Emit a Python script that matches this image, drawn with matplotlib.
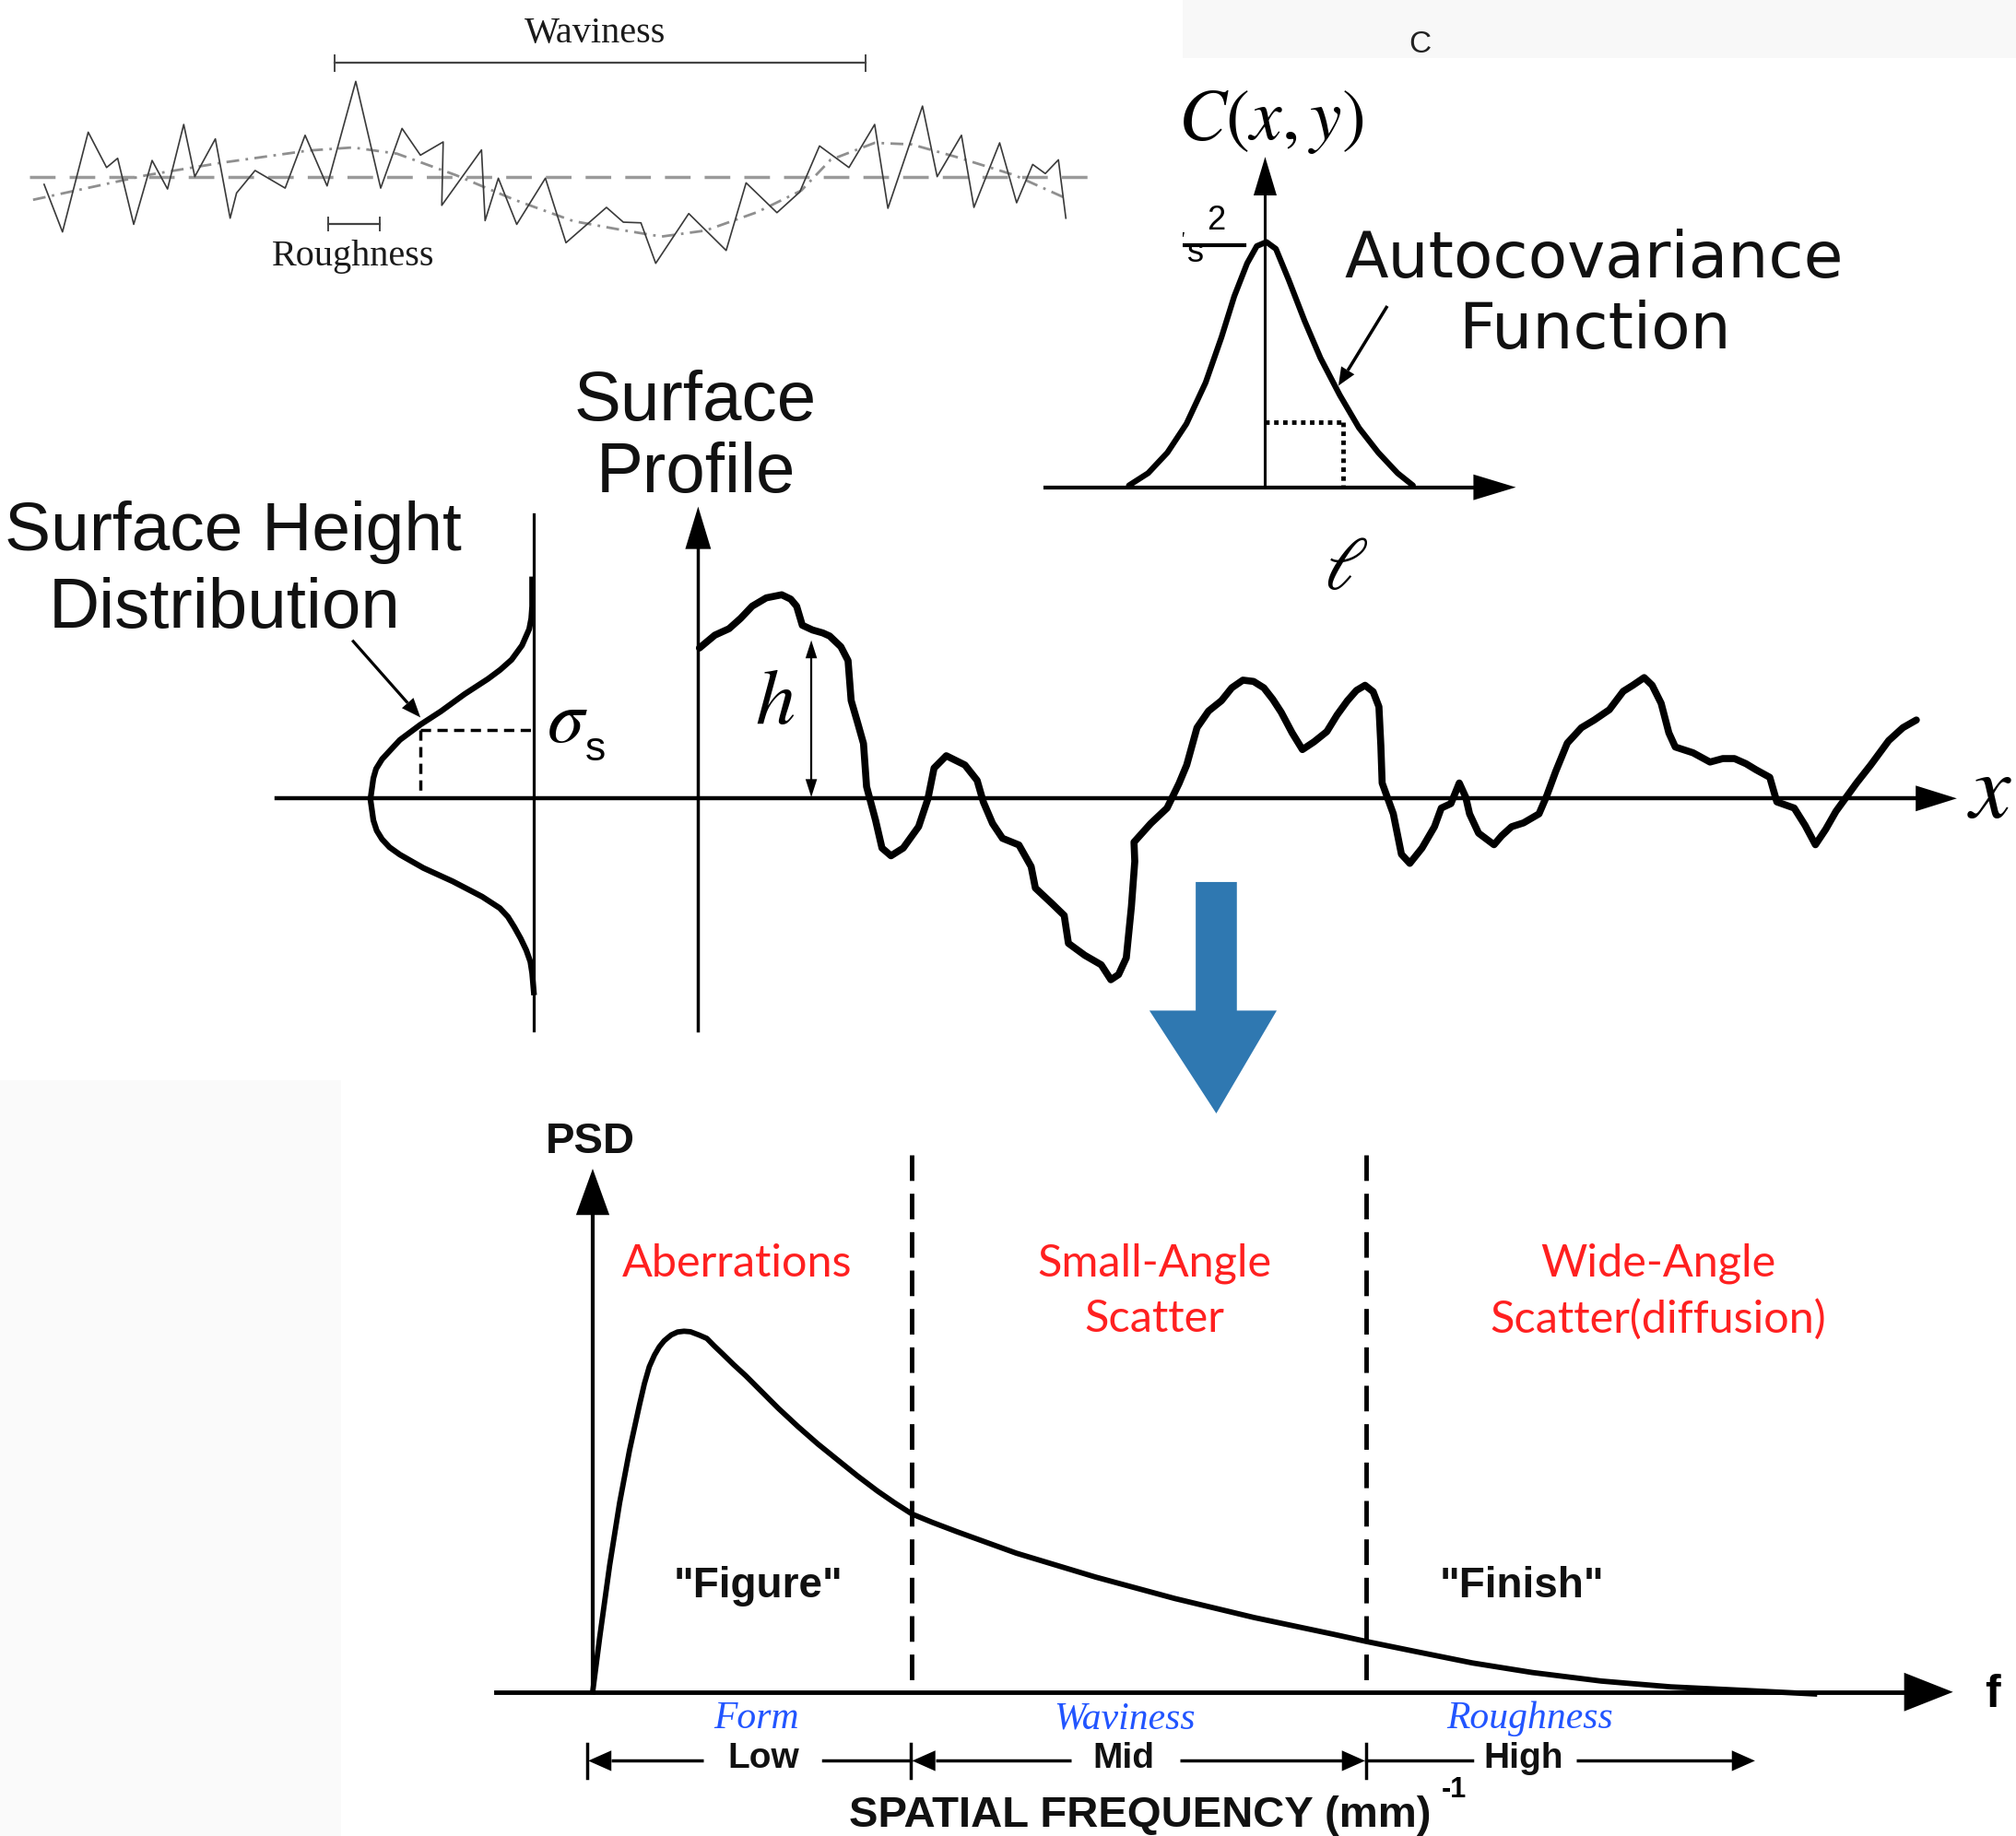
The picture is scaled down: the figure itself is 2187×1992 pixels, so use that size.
import numpy as np
import matplotlib
matplotlib.use("Agg")
import matplotlib.pyplot as plt

plt.rcParams["mathtext.fontset"] = "stix"
plt.rcParams["lines.scale_dashes"] = False
plt.rcParams["font.family"] = ["Liberation Sans", "DejaVu Sans"]

# drawing units = pixels of the reference shrunk to 1568 x 1428
W, H = 1568, 1428

# ---------------- top left : roughness / waviness sketch
rough_x = [34.3, 48.6, 68.6, 82.9, 91.5, 104, 118.3, 130.3, 142.9, 151.5, 167.5, 179, 184, 198.4,
           221.8, 237.3, 254.4, 276.7, 296.1, 312.7, 327, 344.7, 343.6, 374.5, 377.3, 387.6, 401.9,
           424.2, 440.2, 471.7, 484.8, 498.5, 510, 535.7, 564.8, 580.3, 604.3, 622, 637.4, 660.3,
           680.3, 690.6, 717.5, 728.9, 747.8, 757.5, 777.5, 790.7, 803.2, 813, 823.2, 829]
rough_y = [143.4, 180.4, 102.8, 130.3, 123.1, 174.5, 124.8, 147, 96.8, 137.4, 108, 169.7, 150.1, 132.6,
           146.3, 105.2, 144.6, 63.3, 146.3, 99.9, 120.7, 110.4, 159.7, 116.6, 171.6, 138.6, 174.5,
           138.6, 188.8, 161.3, 172.8, 173.3, 204.8, 166.1, 194.8, 142.2, 165.4, 149.4, 113.5, 130.3,
           96.8, 162, 82.5, 137.4, 105.2, 161.3, 111.1, 157.7, 127.9, 135, 124.3, 169.7]
wavy_x = [25.7, 114.3, 171.5, 240, 274.4, 308.7, 354.5, 400.2, 446, 486, 514.5, 548.8, 588.9,
          623.2, 646, 680.3, 709, 743.2, 789, 829]
wavy_y = [155.4, 136.2, 126.7, 117.1, 114.7, 119.5, 136.2, 155.4, 172, 179.3, 184, 179.3, 165,
          148.2, 124.3, 111.1, 112.3, 121.9, 136.2, 154.2]
mean_x = [23, 846]
mean_y = [137.4, 137.4]
waviness_bar = (260, 673, 49)
roughness_bar = (255.5, 295.5, 174.5)

# ---------------- top right : autocovariance
acf_x = [878, 893, 908, 922.8, 937.7, 950, 960, 970, 977.5, 985, 992.4, 1002.3, 1014.7, 1027,
         1042, 1057, 1072, 1087, 1099]
acf_y = [377.6, 368, 352, 329.6, 297.6, 262.4, 230.4, 204.8, 191.4, 188.2, 193.6, 217.6, 249.6,
         278.4, 307.2, 332.8, 352, 368, 377.6]
acf_lag = (984, 1044.6, 328)          # axis x, lag x, value at lag
acf_hax = (813, 1179, 379)
acf_vax = (984, 379, 122)

# ---------------- middle : surface profile and height distribution
prof_x = [544, 556, 567, 576, 585, 596, 608, 615, 619.6, 624, 632, 640, 645.3, 654, 659.6, 662, 667,
          671.6, 674, 681, 686, 693, 702.5, 714.5, 721.7, 726.5, 736, 750.5, 760, 764.8, 772, 779.7,
          792.5, 802, 805.3, 818, 827.7, 831, 843.7, 856.5, 864, 870, 876, 880, 882.6, 882, 895,
          907.7, 917, 923, 931, 940, 950, 958, 966.7, 975, 983, 990, 996.5, 1005, 1013, 1022, 1032,
          1040, 1048, 1055, 1061.7, 1068, 1072.5, 1074, 1075, 1083.7, 1090, 1096.5, 1106, 1115.7,
          1121, 1128.5, 1135, 1140, 1143, 1150, 1162, 1168, 1175.7, 1185, 1197, 1203, 1210, 1219,
          1230, 1240, 1251.7, 1262.5, 1270, 1278.8, 1285, 1292, 1298, 1303, 1316.8, 1330, 1340, 1349,
          1358, 1365.6, 1376.5, 1382, 1395.5, 1404, 1412, 1420, 1428, 1444, 1455, 1469, 1480, 1490.5]
prof_y = [504, 494, 489, 481, 471.5, 465, 462.6, 466, 471.5, 486.3, 490, 492.3, 494.7, 503, 513.8,
          544.8, 562, 578.3, 611.8, 638, 659.6, 665.6, 659.6, 642.9, 621.3, 597.4, 587.8, 595, 607,
          623.7, 640.5, 652, 657.2, 674, 690.7, 702.6, 712, 733.7, 743, 750.4, 762, 758, 745, 705,
          670, 655, 640.5, 628.5, 609.4, 595, 566, 553, 545, 535, 529, 530, 535, 544, 554, 570, 583,
          577, 569, 556, 545, 537, 533, 538, 549.7, 580, 609, 633, 664.4, 671.5, 659.6, 643, 628.5,
          625, 609, 620, 633, 648, 657, 650, 643, 640, 633, 619, 600, 578, 566, 560, 552, 537.7, 533,
          527, 533, 547, 570, 581, 585.5, 592.7, 590, 590, 594, 598.6, 604.6, 623.7, 628.5, 642, 657,
          645, 631, 609, 595, 576, 566, 560]
gauss_x = [413.9, 413.9, 413.2, 411.6, 406, 397.9, 389, 379.6, 361.3, 343, 327, 311, 297.2, 292.5,
           290.4, 288.1, 290.4, 293, 297.2, 303, 311, 329.3, 352.1, 375, 388.7, 395, 400.1, 405,
           409.3, 412.5, 413.9, 415.2]
gauss_y = [450.7, 471.5, 481, 489.3, 502, 513.1, 521, 528, 539.9, 553.2, 563.6, 575.5, 590.4,
           598, 605.3, 621.6, 638, 646, 652.8, 659, 664.7, 675.1, 685.5, 697.4, 706.3, 713, 721.2,
           730, 739, 748, 756.9, 771.8]
sigma_pt = (327, 568)
x_axis = (215, 1522, 621)
dist_line = (415, 400, 801.5)
prof_axis = (543, 801.5, 394)
h_arrow = (631, 498, 620)

# ---------------- transition arrow
blue_arrow_x = [930, 962, 962, 993, 946, 894, 930]
blue_arrow_y = [686, 686, 786, 786, 866, 786, 786]

# ---------------- bottom : PSD
psd_x = [461, 466.5, 474.2, 481.9, 489.6, 497.3, 501.2, 505, 509, 512.8, 516.6, 522, 527, 532,
         537, 543.6, 549.8, 555.2, 562, 570.6, 580, 590, 605, 620.7, 636, 651.6, 667, 682.5, 696,
         709.4, 725, 744.2, 790.4, 852.1, 913.8, 975.5, 1037.2, 1062.7, 1099, 1145.2, 1191.5,
         1245.5, 1299.5, 1353.5, 1411.3]
psd_y = [1315.7, 1273, 1217.3, 1169, 1128.2, 1093, 1076.2, 1063, 1054, 1047.5, 1042.8, 1038.3,
         1036, 1035.4, 1035.8, 1038.3, 1041, 1046.5, 1053, 1061.4, 1070, 1080, 1095, 1109.6, 1123,
         1135.6, 1148, 1159.7, 1169, 1177.6, 1184, 1191.3, 1208, 1226.6, 1243.3, 1258.1, 1271.1,
         1276.7, 1284.1, 1293.4, 1300.8, 1307.5, 1312, 1314.6, 1317.5]
band_edges = [709.4, 1062.7]
band_top, band_bot = 898, 1312
psd_hax = (385.5, 1519, 1316)
psd_vax = (461, 1316, 909)
scatter_line1 = ["Aberrations", "Small-Angle", "Wide-Angle"]
scatter_line2 = ["", "Scatter", "Scatter(diffusion)"]
scatter_x = [573, 898, 1289.5]
band_names = ["Form", "Waviness", "Roughness"]
band_names_x = [588, 875, 1190]
freq_names = ["Low", "Mid", "High"]
freq_names_x = [594, 874, 1185]
range_ticks = [456.5, 708.5, 1062.7]
range_y = 1369.5


def arrowhead(ax, tip, frm, length, width, color="black", z=5):
    tip = np.asarray(tip, float)
    d = tip - np.asarray(frm, float)
    d /= np.hypot(*d)
    n = np.array([-d[1], d[0]])
    base = tip - d * length
    pts = np.array([tip, base + n * width, base - n * width])
    ax.fill(pts[:, 0], pts[:, 1], color=color, lw=0, zorder=z)
    return base


def arrow(ax, start, tip, lw, hl, hw, color="black"):
    base = arrowhead(ax, tip, start, hl, hw, color)
    ax.plot([start[0], base[0]], [start[1], base[1]], color=color, lw=lw,
            solid_capstyle="butt", zorder=4)


fig = plt.figure(figsize=(21.87, 19.92), dpi=100)
ax = fig.add_axes([0, 0, 1, 1])
ax.set_xlim(0, W)
ax.set_ylim(H, 0)
ax.axis("off")

# faint background patches of the collage
ax.fill([920, W, W, 920], [0, 0, 45, 45], color="#f8f8f8", lw=0, zorder=0)
ax.fill([0, 265, 265, 0], [840, 840, H, H], color="#fafafa", lw=0, zorder=0)

# ---- roughness / waviness
ax.plot(mean_x, mean_y, color="#9a9a9a", lw=2.5, dashes=[20, 11], zorder=2)
ax.plot(wavy_x, wavy_y, color="#8f8f8f", lw=2, dashes=[10, 5, 2, 5], zorder=2)
ax.plot(rough_x, rough_y, color="#3a3a3a", lw=1.2, zorder=3)
x0, x1, yb = waviness_bar
ax.plot([x0, x1], [yb, yb], color="#444444", lw=1.6)
ax.plot([x0, x0], [yb - 6, yb + 6], color="#444444", lw=1.4)
ax.plot([x1, x1], [yb - 6, yb + 6], color="#444444", lw=1.4)
x0, x1, yb = roughness_bar
ax.plot([x0, x1], [yb, yb], color="#444444", lw=1.6)
ax.plot([x0, x0], [yb - 5, yb + 5], color="#444444", lw=1.4)
ax.plot([x1, x1], [yb - 5, yb + 5], color="#444444", lw=1.4)
ax.text(463, 26, "Waviness", fontsize=29, family="Liberation Serif", color="#1a1a1a",
        ha="center", va="center")
ax.text(275, 200, "Roughness", fontsize=29, family="Liberation Serif", color="#1a1a1a",
        ha="center", va="center")

# ---- autocovariance
ax.plot([acf_hax[0], acf_hax[1] - 30], [acf_hax[2]] * 2, color="black", lw=3)
arrowhead(ax, (acf_hax[1], acf_hax[2]), (acf_hax[0], acf_hax[2]), 33, 10)
ax.plot([acf_vax[0]] * 2, [acf_vax[1], acf_vax[2] + 25], color="black", lw=2.2)
arrowhead(ax, (acf_vax[0], acf_vax[2]), (acf_vax[0], acf_vax[1]), 30, 9)
ax.plot(acf_x, acf_y, color="black", lw=4.5, solid_capstyle="round", zorder=4)
ax.plot([acf_lag[0], acf_lag[1]], [acf_lag[2]] * 2, color="black", lw=3.5, dashes=[3.5, 3.5])
ax.plot([acf_lag[1]] * 2, [acf_lag[2], acf_hax[2]], color="black", lw=3.5, dashes=[3.5, 3.5])
ax.plot([915, 968], [191, 191], color="black", lw=3)
ax.text(1061, 95, r"$C(x,y)$", fontsize=56, ha="right", va="center")
ax.text(909, 188, r"$\sigma$", fontsize=46, ha="center", va="center")
ax.text(930, 197, "s", fontsize=26, ha="center", va="center")
ax.text(946, 172, "2", fontsize=26, ha="center", va="center")
# the left part of this panel is hidden under the white roughness panel
ax.fill([850, 920, 920, 850], [55, 55, 240, 240], color="white", lw=0, zorder=10)
ax.text(1240, 216, "Autocovariance", fontsize=50, family="DejaVu Sans", ha="center",
        va="baseline", color="#111111")
ax.text(1240, 271, "Function", fontsize=50, family="DejaVu Sans", ha="center",
        va="baseline", color="#111111")
arrow(ax, (1079, 238), (1041, 300), 2.5, 14, 6)
ax.text(1047, 443, r"$\ell$", fontsize=58, ha="center", va="center")
ax.text(1104, 35, "C", fontsize=24, ha="center", va="center", color="#222222")

# ---- surface profile
ax.plot([x_axis[0], x_axis[1] - 30], [x_axis[2]] * 2, color="black", lw=3.2, zorder=3)
arrowhead(ax, (x_axis[1], x_axis[2]), (x_axis[0], x_axis[2]), 32, 10)
ax.plot([dist_line[0]] * 2, [dist_line[1], dist_line[2]], color="black", lw=2.3)
ax.plot([prof_axis[0]] * 2, [prof_axis[1], prof_axis[2] + 28], color="black", lw=2.5)
arrowhead(ax, (prof_axis[0], prof_axis[2]), (prof_axis[0], prof_axis[1]), 33, 10)
ax.plot(gauss_x, gauss_y, color="black", lw=4.5, solid_joinstyle="round", zorder=4)
ax.plot([sigma_pt[0], dist_line[0]], [sigma_pt[1]] * 2, color="black", lw=2.5, dashes=[8, 5])
ax.plot([sigma_pt[0]] * 2, [sigma_pt[1], x_axis[2]], color="black", lw=2.5, dashes=[8, 5])
arrow(ax, (274, 498), (327, 558), 2.3, 15, 6)
ax.plot(prof_x, prof_y, color="black", lw=5.5, solid_joinstyle="round",
        solid_capstyle="round", zorder=4)
hx, hy0, hy1 = h_arrow
ax.plot([hx, hx], [hy0 + 12, hy1 - 12], color="black", lw=1.6)
arrowhead(ax, (hx, hy0), (hx, hy1), 14, 4.5)
arrowhead(ax, (hx, hy1), (hx, hy0), 14, 4.5)
ax.text(603, 548, r"$h$", fontsize=62, ha="center", va="center")
ax.text(441, 562, r"$\sigma$", fontsize=58, ha="center", va="center")
ax.text(463, 583, "s", fontsize=32, ha="center", va="center")
ax.text(1548, 617, r"$x$", fontsize=72, ha="center", va="center")
ax.text(541, 327, "Surface", fontsize=55, ha="center", va="baseline", color="#111111")
ax.text(541, 383, "Profile", fontsize=55, ha="center", va="baseline", color="#111111")
ax.text(181, 428, "Surface Height", fontsize=54, ha="center", va="baseline", color="#111111")
ax.text(175, 488, "Distribution", fontsize=55, ha="center", va="baseline", color="#111111")

# ---- blue arrow
ax.fill(blue_arrow_x, blue_arrow_y, color="#2f78b1", lw=0, zorder=6)

# ---- PSD
ax.plot([psd_hax[0], psd_hax[1] - 36], [psd_hax[2]] * 2, color="black", lw=3.5)
arrowhead(ax, (psd_hax[1], psd_hax[2]), (psd_hax[0], psd_hax[2]), 38, 15)
ax.plot([psd_vax[0]] * 2, [psd_vax[1], psd_vax[2] + 30], color="black", lw=3)
arrowhead(ax, (psd_vax[0], psd_vax[2]), (psd_vax[0], psd_vax[1]), 36, 13)
for xe in band_edges:
    ax.plot([xe, xe], [band_top, band_bot], color="black", lw=3.5, dashes=[20, 10])
ax.plot(psd_x, psd_y, color="black", lw=4.2, solid_joinstyle="round", zorder=4)
ax.text(459, 888, "PSD", fontsize=34, weight="bold", ha="center", va="center", color="#111111")
ax.text(1550, 1318, "f", fontsize=36, weight="bold", ha="center", va="center")
for l1, l2, xc in zip(scatter_line1, scatter_line2, scatter_x):
    ax.text(xc, 983, l1, fontsize=35, family="Lato", color="#ff2020", ha="center", va="center")
    ax.text(xc, 1026, l2, fontsize=35, family="Lato", color="#ff2020", ha="center", va="center")
ax.text(590, 1234, '"Figure"', fontsize=33, weight="bold", ha="center", va="center",
        color="#111111")
ax.text(1184, 1234, '"Finish"', fontsize=33, weight="bold", ha="center", va="center",
        color="#111111")
for lab, xc in zip(band_names, band_names_x):
    ax.text(xc, 1337, lab, fontsize=30, family="Liberation Serif", style="italic",
            color="#2255ff", ha="center", va="center")
for lab, xc in zip(freq_names, freq_names_x):
    ax.text(xc, 1368, lab, fontsize=28, weight="bold", ha="center", va="center",
            color="#111111")
for xt in range_ticks:
    ax.plot([xt, xt], [range_y - 13, range_y + 13], color="black", lw=2.5)
arrow(ax, (547, range_y), (range_ticks[0] + 1, range_y), 2.5, 18, 8)
ax.plot([640, range_ticks[1]], [range_y] * 2, color="black", lw=2.5)
arrow(ax, (833, range_y), (range_ticks[1] + 1, range_y), 2.5, 18, 8)
arrow(ax, (918, range_y), (range_ticks[2] - 1, range_y), 2.5, 18, 8)
ax.plot([range_ticks[2], 1145], [range_y] * 2, color="black", lw=2.5)
arrow(ax, (1226, range_y), (1365, range_y), 2.5, 18, 8)
ax.text(887, 1412, "SPATIAL FREQUENCY (mm)", fontsize=34, weight="bold", ha="center",
        va="center", color="#111111")
ax.text(1131, 1392, "-1", fontsize=22, weight="bold", ha="center", va="center")

fig.savefig("out.png", dpi=100)
